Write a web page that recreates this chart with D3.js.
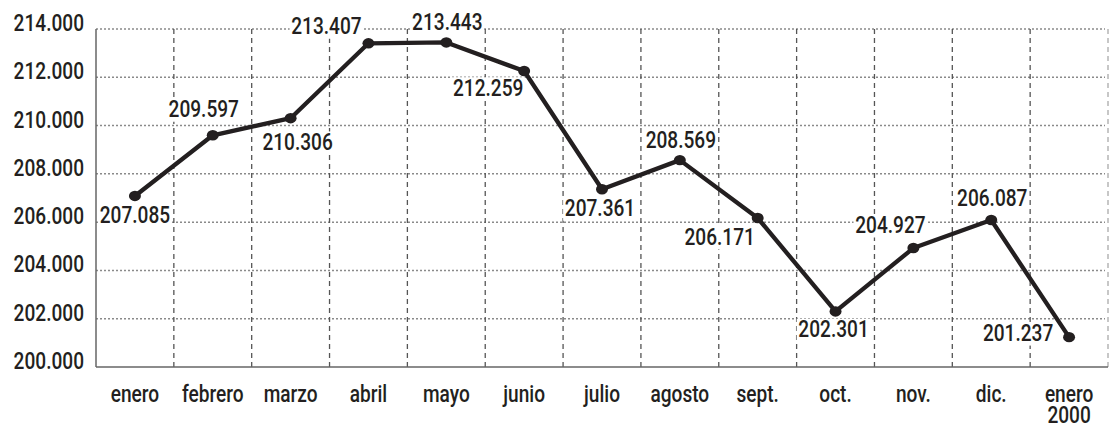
<!DOCTYPE html>
<html>
<head>
<meta charset="utf-8">
<script src="https://cdn.jsdelivr.net/npm/d3@7"></script>
<style>
  html, body { margin: 0; padding: 0; background: #fff; }
  svg { display: block; }
  text { font-family: Roboto, 'DejaVu Sans Condensed', sans-serif; font-weight: 500; fill: #231f20; }
</style>
</head>
<body>
<svg id="chart" width="1109" height="427"></svg>
<script>
// Data
const months = ["enero", "febrero", "marzo", "abril", "mayo", "junio", "julio", "agosto", "sept.", "oct.", "nov.", "dic.", "enero\n2000"];
const values = [207.085, 209.597, 210.306, 213.407, 213.443, 212.259, 207.361, 208.569, 206.171, 202.301, 204.927, 206.087, 201.237];
const valueLabels = ["207.085", "209.597", "210.306", "213.407", "213.443", "212.259", "207.361", "208.569", "206.171", "202.301", "204.927", "206.087", "201.237"];
const yTicks = [200, 202, 204, 206, 208, 210, 212, 214];
const yTickLabels = ["200.000", "202.000", "204.000", "206.000", "208.000", "210.000", "212.000", "214.000"];

// Label placement (layout only): offset of label center/baseline from point
const labelDx = [0, -9, 7, -42, 1, -36, -2, 1, -38, -2, -23, 1, -51];
const labelDy = [27, -18, 32, -9, -12, 25, 27, -12, 27, 26, -15, -14, 4];

const SX = 0.83, FS = 23;
const svg = d3.select("#chart");
const mLeft = 96, mRight = 1108, mTop = 29, mBottom = 367;

const x = d3.scaleBand().domain(d3.range(months.length)).range([mLeft, mRight]).padding(0);
const y = d3.scaleLinear().domain([200, 214]).range([mBottom, mTop]);

// Horizontal grid (dotted)
svg.append("g").selectAll("line").data(yTicks.filter(t => t > 200)).join("line")
  .attr("x1", mLeft).attr("x2", mRight - 3)
  .attr("y1", d => y(d)).attr("y2", d => y(d))
  .attr("stroke", "#8a8a8a").attr("stroke-width", 1.5).attr("stroke-dasharray", "2,2");

// Vertical grid (dashed) at band boundaries
svg.append("g").selectAll("line").data(d3.range(1, months.length + 1)).join("line")
  .attr("x1", d => x.step() * d + mLeft).attr("x2", d => x.step() * d + mLeft)
  .attr("y1", mTop).attr("y2", mBottom)
  .attr("stroke", d => d === months.length ? "#aaa" : "#555")
  .attr("stroke-width", 1.3).attr("stroke-dasharray", "5,4");

// Axes lines
svg.append("line").attr("x1", mLeft).attr("x2", mLeft).attr("y1", mTop).attr("y2", mBottom)
  .attr("stroke", "#666").attr("stroke-width", 1.5);
svg.append("line").attr("x1", mLeft).attr("x2", mRight).attr("y1", mBottom).attr("y2", mBottom)
  .attr("stroke", "#666").attr("stroke-width", 1.5);

// Y tick labels
svg.append("g").selectAll("text").data(yTicks).join("text")
  .attr("transform", d => `translate(84,${y(d) + 2}) scale(${SX},1)`)
  .attr("text-anchor", "end").attr("font-size", FS)
  .text((d, i) => yTickLabels[i]);

// X labels
const xl = svg.append("g").selectAll("text").data(months).join("text")
  .attr("text-anchor", "middle").attr("font-size", FS)
  .attr("transform", (d, i) => `translate(${x(i) + x.bandwidth() / 2},402) scale(${SX},1)`);
xl.each(function(d) {
  const lines = d.split("\n");
  d3.select(this).selectAll("tspan").data(lines).join("tspan")
    .attr("x", 0).attr("dy", (l, j) => j === 0 ? 0 : 21).text(l => l);
});

// Line
const cx = i => x(i) + x.bandwidth() / 2;
svg.append("path").datum(values)
  .attr("fill", "none").attr("stroke", "#231f20").attr("stroke-width", 4.3)
  .attr("stroke-linejoin", "round")
  .attr("d", d3.line().x((d, i) => cx(i)).y(d => y(d)));

// Points
svg.append("g").selectAll("ellipse").data(values).join("ellipse")
  .attr("cx", (d, i) => cx(i)).attr("cy", d => y(d))
  .attr("rx", 6).attr("ry", 5.2).attr("fill", "#231f20");

// Value labels with white background
const lg = svg.append("g").selectAll("g").data(values).join("g")
  .attr("transform", (d, i) => `translate(${cx(i) + labelDx[i]},${y(d) + labelDy[i]}) scale(${SX},1)`);
lg.append("text").attr("text-anchor", "middle").attr("font-size", FS)
  .text((d, i) => valueLabels[i]);
lg.each(function() {
  const g = d3.select(this);
  const bb = g.select("text").node().getBBox();
  g.insert("rect", "text")
    .attr("x", bb.x - 2).attr("y", bb.y + 3).attr("width", bb.width + 4).attr("height", bb.height - 4)
    .attr("fill", "#fff");
});
</script>
</body>
</html>
